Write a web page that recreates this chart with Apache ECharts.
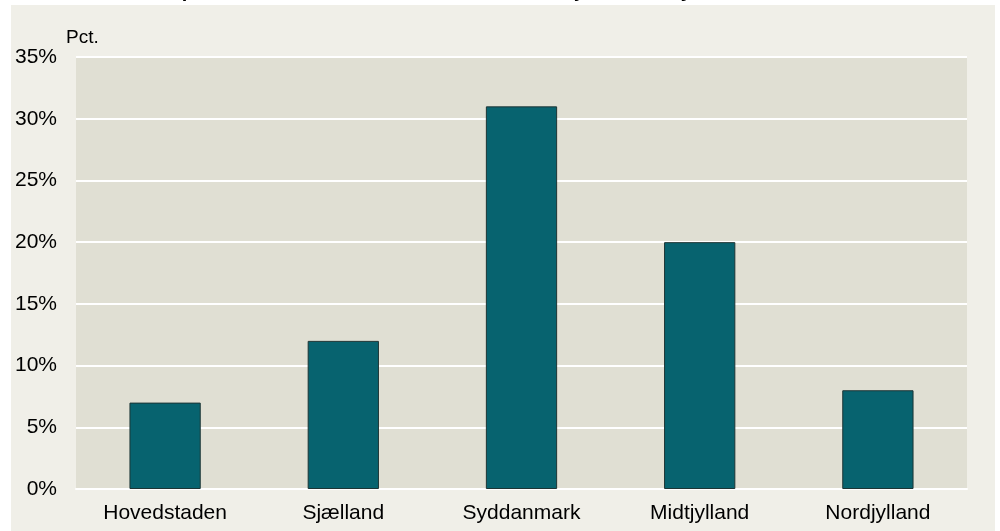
<!DOCTYPE html>
<html><head><meta charset="utf-8">
<script src="https://cdn.jsdelivr.net/npm/echarts@6/dist/echarts.min.js"></script>
<style>html,body{margin:0;padding:0;background:#fff}#c{width:1000px;height:531px}</style>
</head><body><div id="c"></div>
<script>
const categories = ['Hovedstaden', 'Sjælland', 'Syddanmark', 'Midtjylland', 'Nordjylland'];
const values = [7, 12, 31, 20, 8];
const yTicks = [0, 5, 10, 15, 20, 25, 30, 35];
const titleText = 'Elever i praktikforløbet, fordelt efter alle elevers hjemsted i Syddanmark';
const unitLabel = 'Pct.';

const chart = echarts.init(document.getElementById('c'), null, {renderer: 'canvas'});
chart.setOption({
  backgroundColor: '#ffffff',
  animation: false,
  graphic: [
    {type: 'text', x: 105, y: 1, z: 1, style: {text: titleText, font: 'bold 20px "Liberation Sans", Arial, sans-serif', fill: '#000', verticalAlign: 'bottom'}},
    {type: 'rect', z: 2, shape: {x: 11, y: 5, width: 984, height: 526}, style: {fill: '#f0efe8'}},
    {type: 'text', x: 66, y: 38, z: 3, style: {text: unitLabel, font: '19px "Liberation Sans", Arial, sans-serif', fill: '#000', verticalAlign: 'middle'}}
  ],
  grid: {left: 76, right: 33, top: 57, bottom: 42, show: true, backgroundColor: '#e0dfd3', borderWidth: 0, z: 3},
  xAxis: {
    type: 'category', data: categories, z: 4,
    axisLine: {show: true, lineStyle: {color: '#ffffff', width: 2}},
    axisTick: {show: false},
    axisLabel: {color: '#000', fontSize: 21, fontFamily: '"Liberation Sans", Arial, sans-serif', margin: 14}
  },
  yAxis: {
    type: 'value', min: 0, max: 35, interval: 5, z: 4,
    axisLine: {show: false}, axisTick: {show: false},
    splitLine: {show: true, lineStyle: {color: '#ffffff', width: 2}},
    axisLabel: {color: '#000', fontSize: 21, fontFamily: '"Liberation Sans", Arial, sans-serif', margin: 19,
      formatter: v => yTicks.includes(v) ? v + '%' : ''}
  },
  series: [{
    type: 'bar', data: values, barWidth: '40%', z: 5,
    itemStyle: {color: '#07636f', borderColor: '#1d3535', borderWidth: 1}
  }]
});
</script></body></html>
